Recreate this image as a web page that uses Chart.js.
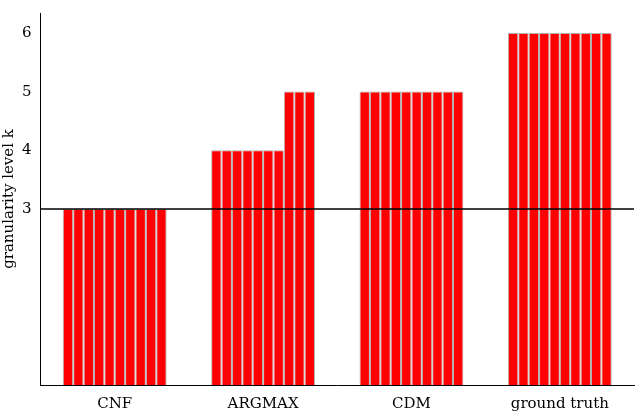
<!DOCTYPE html>
<html>
<head>
<meta charset="utf-8">
<script src="https://cdn.jsdelivr.net/npm/chart.js@4"></script>
<style>
  body { margin: 0; background: #fff; }
  #wrap { width: 640px; height: 415px; }
</style>
</head>
<body>
<div id="wrap"><canvas id="chart"></canvas></div>
<script>
'use strict';
// data
let categories = ['CNF', 'ARGMAX', 'CDM', 'ground truth'];
// one row per run (10 runs), one value per method
let cnfLevels = [3, 3, 3, 3, 3, 3, 3, 3, 3, 3];
let argmaxLevels = [4, 4, 4, 4, 4, 4, 4, 5, 5, 5];
let cdmLevels = [5, 5, 5, 5, 5, 5, 5, 5, 5, 5];
let truthLevels = [6, 6, 6, 6, 6, 6, 6, 6, 6, 6];
let yTicks = [3, 4, 5, 6];
let refLevel = 3;

let datasets = [];
for (let i = 0; i < cnfLevels.length; i++) {
  datasets.push({
    data: [cnfLevels[i], argmaxLevels[i], cdmLevels[i], truthLevels[i]],
    backgroundColor: '#ff0000',
    borderColor: '#b4b4b4',
    borderWidth: 1,
    categoryPercentage: 0.7,
    barPercentage: 1
  });
}

// horizontal reference line
let refLine = {
  id: 'refLine',
  afterDatasetsDraw(chart) {
    let ctx = chart.ctx;
    let y = chart.scales.y.getPixelForValue(refLevel);
    ctx.save();
    ctx.strokeStyle = '#000';
    ctx.lineWidth = 1.5;
    ctx.beginPath();
    ctx.moveTo(chart.chartArea.left, y);
    ctx.lineTo(chart.chartArea.right, y);
    ctx.stroke();
    ctx.restore();
  }
};

let font = { family: "'DejaVu Serif', 'Liberation Serif', serif", size: 15 };
new Chart(document.getElementById('chart'), {
  type: 'bar',
  data: { labels: categories, datasets: datasets },
  plugins: [refLine],
  options: {
    responsive: true,
    maintainAspectRatio: false,
    animation: false,
    layout: { padding: { top: 0, right: 6, bottom: 0, left: 0 } },
    plugins: { legend: { display: false }, tooltip: { enabled: false } },
    scales: {
      x: {
        grid: { display: false, drawTicks: true },
        border: { color: '#000', width: 1 },
        ticks: { color: '#000', font: font, padding: 2 }
      },
      y: {
        min: 0,
        max: 6.34,
        afterBuildTicks(axis) { axis.ticks = yTicks.map(v => ({ value: v })); },
        grid: { display: false, drawTicks: true, tickLength: 5, tickColor: '#000' },
        border: { color: '#000', width: 1 },
        ticks: { color: '#000', font: font, padding: 4 },
        title: { display: true, text: 'granularity level k', color: '#000', font: font, padding: 0 }
      }
    }
  }
});
</script>
</body>
</html>
